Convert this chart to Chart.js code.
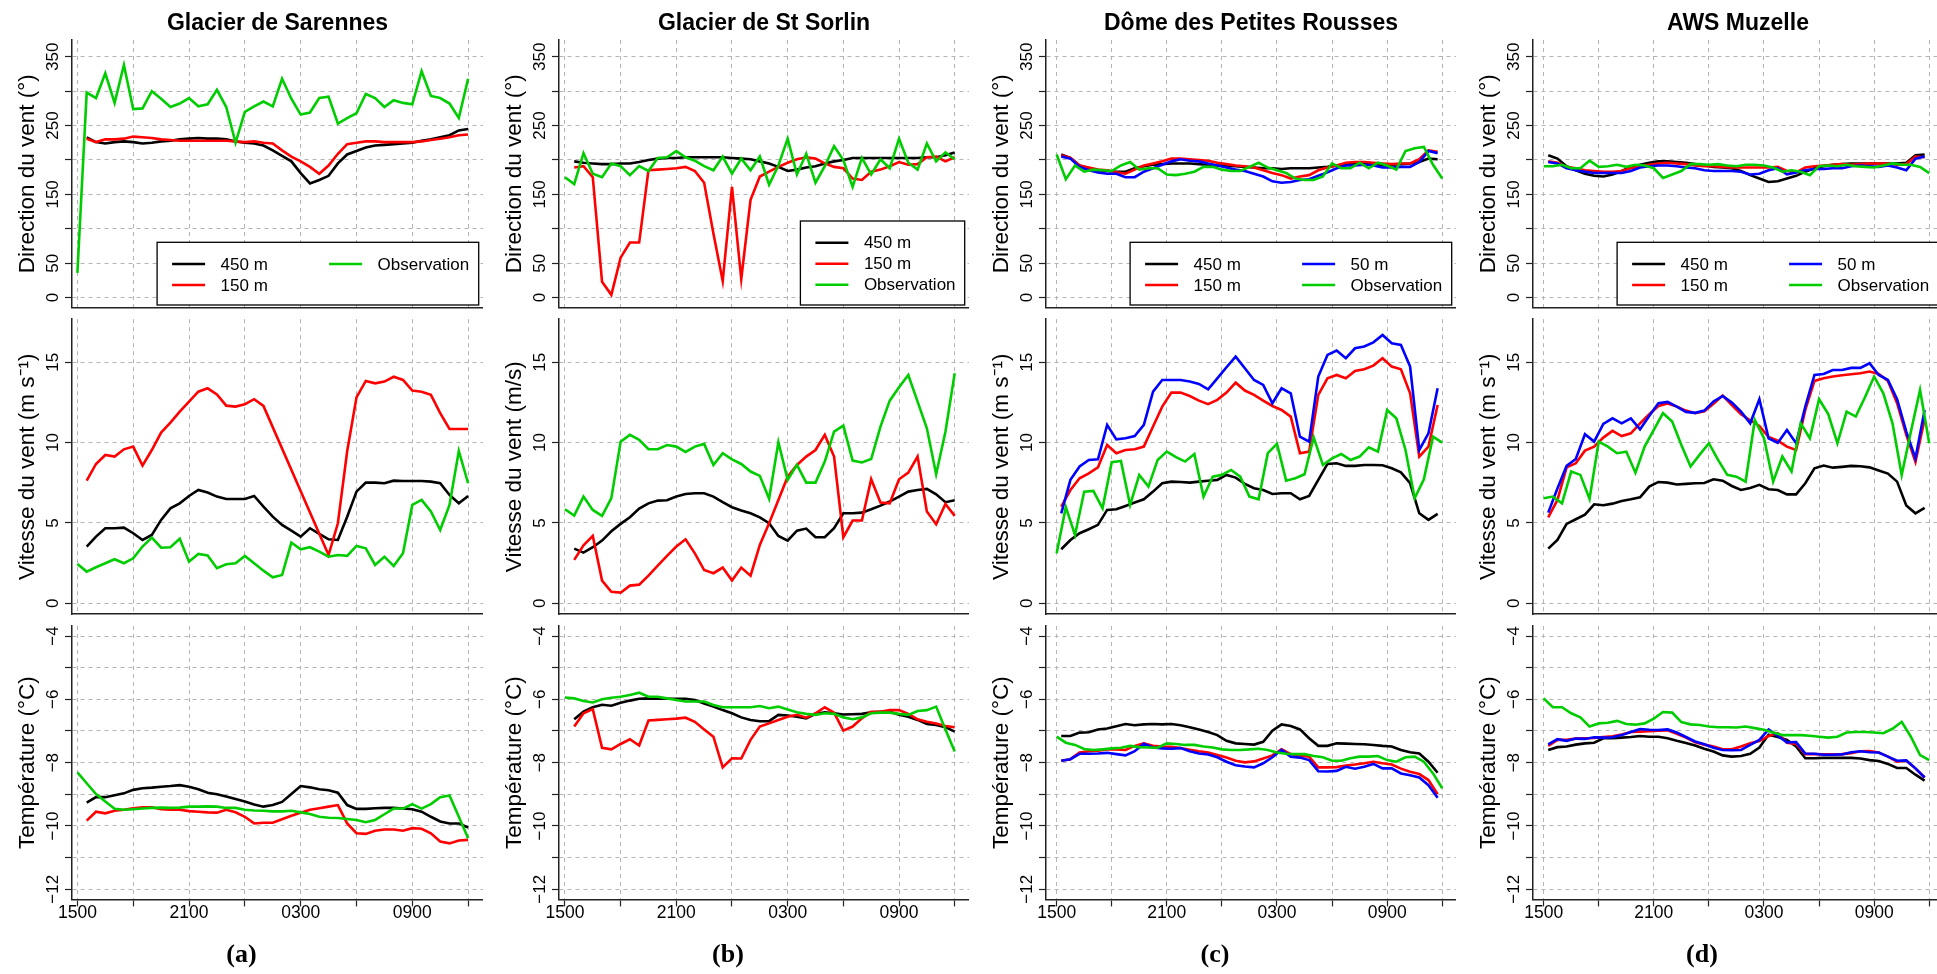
<!DOCTYPE html>
<html lang="fr">
<head>
<meta charset="UTF-8">
<title>Vent et température : modèle et observations</title>
<script src="https://cdn.jsdelivr.net/npm/chart.js"></script>
<style>
  html, body { margin: 0; padding: 0; background: #fff; overflow: hidden; }
  #fig { position: relative; width: 1937px; height: 974px; overflow: hidden; }
  #fig canvas { position: absolute; }
</style>
</head>
<body>
<div id="fig"></div>
<script>
// hours after 1500 (local)
const tObs = [0,0.5,1,1.5,2,2.5,3,3.5,4,4.5,5,5.5,6,6.5,7,7.5,8,8.5,9,9.5,10,10.5,11,11.5,12,12.5,13,13.5,14,14.5,15,15.5,16,16.5,17,17.5,18,18.5,19,19.5,20,20.5,21];
const tModAB = [0.5,1,1.5,2,2.5,3,3.5,4,4.5,5,5.5,6,6.5,7,7.5,8,8.5,9,9.5,10,10.5,11,11.5,12,12.5,13,13.5,14,14.5,15,15.5,16,16.5,17,17.5,18,18.5,19,19.5,20,20.5,21];
const tModCD = [0.25,0.75,1.25,1.75,2.25,2.75,3.25,3.75,4.25,4.75,5.25,5.75,6.25,6.75,7.25,7.75,8.25,8.75,9.25,9.75,10.25,10.75,11.25,11.75,12.25,12.75,13.25,13.75,14.25,14.75,15.25,15.75,16.25,16.75,17.25,17.75,18.25,18.75,19.25,19.75,20.25,20.75];

const hourTicks = [0, 3, 6, 9, 12, 15, 18, 21];
const hourLabels = ['1500', '', '2100', '', '0300', '', '0900', ''];

const stations = ['Glacier de Sarennes', 'Glacier de St Sorlin', 'Dôme des Petites Rousses', 'AWS Muzelle'];
const panelLetters = ['(a)', '(b)', '(c)', '(d)'];

// Glacier de Sarennes
const sarDir450 = [233,226,224,226,227,226,224,225,227,228,230,231,232,231,231,230,227,225,224,221,214,206,198,181,166,171,177,195,208,213,218,221,222,223,224,225,228,230,233,236,243,245];
const sarDir150 = [231,226,230,230,231,234,233,232,230,229,228,228,228,228,228,228,227,226,227,225,224,214,205,198,190,180,192,209,223,225,227,227,226,226,226,226,227,229,231,233,236,237];
const sarDirObs = [36,298,290,326,283,338,274,275,300,289,277,282,290,278,281,302,277,225,270,278,285,278,318,289,266,269,290,292,253,261,268,296,290,277,287,283,281,329,293,290,282,261,318];
const sarSpd450 = [3.53,4.15,4.67,4.67,4.71,4.36,3.94,4.25,5.19,5.91,6.22,6.68,7.05,6.89,6.64,6.49,6.49,6.49,6.68,6.02,5.39,4.88,4.52,4.15,4.67,4.32,3.98,3.94,5.39,6.95,7.51,7.51,7.47,7.63,7.61,7.61,7.61,7.57,7.47,6.74,6.22,6.68];
const sarSpd150 = [7.63,8.67,9.23,9.13,9.58,9.75,8.57,9.54,10.62,11.24,11.93,12.55,13.17,13.38,13.0,12.3,12.24,12.39,12.7,12.28,null,null,null,null,null,null,3.0,4.98,9.46,12.81,13.84,13.69,13.8,14.1,13.9,13.24,13.17,12.97,11.83,10.85,10.85,10.85];
const sarSpdObs = [2.45,1.97,2.24,2.49,2.74,2.49,2.8,3.53,4.09,3.46,3.49,4.02,2.59,3.07,2.97,2.18,2.43,2.49,2.95,2.49,2.03,1.62,1.76,3.78,3.36,3.49,3.22,2.9,3.0,2.95,3.57,3.42,2.39,2.9,2.32,3.11,6.12,6.43,5.71,4.56,6.12,9.48,7.47];
const sarTmp450 = [-9.26,-9.09,-9.09,-9.03,-8.97,-8.86,-8.81,-8.79,-8.76,-8.74,-8.71,-8.76,-8.84,-8.95,-9.0,-9.07,-9.15,-9.23,-9.32,-9.39,-9.34,-9.24,-8.99,-8.74,-8.78,-8.84,-8.87,-8.95,-9.34,-9.46,-9.46,-9.44,-9.43,-9.43,-9.45,-9.47,-9.55,-9.71,-9.86,-9.92,-9.92,-10.05];
const sarTmp150 = [-9.83,-9.55,-9.6,-9.52,-9.49,-9.44,-9.41,-9.41,-9.47,-9.49,-9.49,-9.53,-9.55,-9.57,-9.58,-9.49,-9.57,-9.71,-9.92,-9.9,-9.9,-9.79,-9.68,-9.58,-9.49,-9.44,-9.39,-9.34,-9.92,-10.23,-10.25,-10.15,-10.11,-10.11,-10.15,-10.07,-10.09,-10.23,-10.49,-10.55,-10.46,-10.44];
const sarTmpObs = [-8.31,-8.65,-8.99,-9.23,-9.46,-9.49,-9.47,-9.45,-9.43,-9.42,-9.43,-9.42,-9.39,-9.39,-9.38,-9.39,-9.43,-9.43,-9.49,-9.51,-9.52,-9.54,-9.54,-9.52,-9.57,-9.62,-9.71,-9.74,-9.75,-9.78,-9.81,-9.88,-9.81,-9.63,-9.45,-9.45,-9.31,-9.45,-9.31,-9.09,-9.04,-9.71,-10.39];

// Glacier de St Sorlin
const sorDir450 = [198,196,195,194,194,195,195,197,200,202,203,203,204,204,204,204,204,203,202,201,198,195,190,184,186,189,191,195,198,200,203,203,203,203,203,203,203,203,204,204,207,211];
const sorDir150 = [189,191,175,23,4,58,80,80,185,186,187,188,190,184,167,93,24,161,27,142,176,183,190,196,201,204,202,195,190,188,173,171,183,186,191,197,193,194,204,205,198,204];
const sorDirObs = [175,165,210,180,175,195,191,178,191,184,203,204,213,204,199,191,185,205,180,202,185,205,164,192,231,179,209,167,191,220,200,161,203,179,201,188,231,196,186,224,198,211,201];
const sorSpd450 = [3.4,3.15,3.49,3.9,4.48,4.94,5.35,5.89,6.22,6.39,6.41,6.64,6.8,6.85,6.85,6.64,6.29,5.98,5.77,5.6,5.35,4.98,4.19,3.9,4.52,4.65,4.11,4.11,4.67,5.6,5.6,5.64,5.85,6.08,6.33,6.64,6.95,7.05,7.12,6.78,6.29,6.41];
const sorSpd150 = [2.7,3.61,4.19,1.41,0.71,0.66,1.1,1.16,1.72,2.34,2.95,3.53,3.98,3.11,2.07,1.87,2.22,1.41,2.22,1.72,3.63,4.98,6.43,7.88,8.61,9.13,9.54,10.48,9.13,4.11,5.15,5.15,7.72,6.27,6.22,7.72,8.13,9.13,5.71,4.92,6.18,5.44];
const sorSpdObs = [5.85,5.46,6.64,5.81,5.44,6.54,10.06,10.48,10.17,9.59,9.59,9.85,9.75,9.42,9.75,9.92,8.61,9.34,8.96,8.67,8.2,7.93,6.51,10.02,7.68,8.61,7.51,7.51,8.82,10.68,11.06,8.88,8.76,8.98,11.0,12.61,13.44,14.21,12.55,10.89,8.03,10.68,14.32];
const sorTmp450 = [-6.63,-6.39,-6.25,-6.17,-6.2,-6.11,-6.04,-5.98,-5.97,-5.98,-5.98,-5.98,-5.98,-6.02,-6.13,-6.23,-6.34,-6.44,-6.57,-6.65,-6.69,-6.69,-6.49,-6.51,-6.55,-6.6,-6.46,-6.41,-6.44,-6.48,-6.47,-6.46,-6.41,-6.39,-6.39,-6.49,-6.55,-6.65,-6.78,-6.81,-6.88,-7.02];
const sorTmp150 = [-6.86,-6.44,-6.31,-7.53,-7.58,-7.41,-7.26,-7.46,-6.67,-6.65,-6.63,-6.61,-6.58,-6.71,-6.95,-7.18,-8.15,-7.86,-7.87,-7.28,-6.86,-6.76,-6.65,-6.55,-6.49,-6.58,-6.44,-6.25,-6.42,-6.99,-6.86,-6.6,-6.39,-6.39,-6.34,-6.34,-6.46,-6.63,-6.71,-6.76,-6.84,-6.88];
const sorTmpObs = [-5.94,-5.97,-6.05,-6.1,-6.0,-5.95,-5.92,-5.86,-5.79,-5.92,-5.92,-5.97,-6.02,-6.07,-6.07,-6.07,-6.18,-6.25,-6.25,-6.25,-6.25,-6.21,-6.28,-6.23,-6.32,-6.41,-6.46,-6.49,-6.44,-6.46,-6.57,-6.63,-6.57,-6.44,-6.42,-6.42,-6.46,-6.49,-6.37,-6.34,-6.23,-6.95,-7.65];

// Dôme des Petites Rousses
const domDir450 = [208,203,192,188,185,184,183,183,188,191,193,194,195,195,195,194,193,192,192,191,190,189,188,188,187,188,188,188,189,190,192,194,195,195,194,192,193,194,195,197,202,201];
const domDir150 = [207,203,192,189,186,185,182,180,186,192,195,198,202,202,201,200,199,196,194,192,191,189,185,181,178,173,176,178,185,189,192,196,197,197,196,195,194,195,195,201,214,212];
const domDir50 = [205,202,190,185,182,180,180,175,175,183,188,193,198,201,199,198,195,192,189,186,184,180,176,169,167,168,171,172,177,182,188,192,192,193,192,189,189,190,190,197,213,210];
const domDirObs = [208,172,192,183,186,185,184,192,197,186,188,188,179,178,180,183,190,190,186,184,184,190,196,189,185,181,173,171,171,176,195,188,188,196,188,196,192,186,213,217,219,193,173];
const domSpd450 = [3.36,3.94,4.36,4.61,4.88,5.81,5.85,6.06,6.27,6.47,6.95,7.47,7.57,7.55,7.51,7.57,7.63,7.68,7.99,7.82,7.43,7.16,7.05,6.8,6.85,6.85,6.47,6.68,7.68,8.67,8.71,8.55,8.55,8.61,8.61,8.59,8.4,8.15,7.47,5.6,5.19,5.56];
const domSpd150 = [6.02,7.05,7.78,8.09,8.46,9.85,9.34,9.54,9.59,9.75,11.0,12.24,13.11,13.11,12.9,12.61,12.39,12.66,13.11,13.73,13.24,12.97,12.61,12.28,12.03,11.62,9.34,9.44,12.97,14.0,14.21,14.0,14.46,14.56,14.79,15.25,14.73,14.56,13.07,9.13,9.75,12.34];
const domSpd50 = [5.6,7.68,8.51,8.92,8.96,11.1,10.2,10.27,10.41,11.1,13.17,13.9,13.9,13.9,13.8,13.65,13.32,14.0,14.69,15.35,14.63,13.9,13.59,12.45,13.38,13.07,10.37,10.06,14.11,15.46,15.73,15.25,15.87,15.98,16.24,16.7,16.18,16.08,14.73,9.54,10.58,13.38];
const domSpdObs = [3.11,5.98,4.25,6.95,6.99,5.91,8.78,8.86,6.12,7.99,7.26,8.92,9.44,9.09,8.82,9.29,6.64,7.88,7.99,8.3,7.88,6.64,6.47,9.34,9.92,7.63,7.78,8.03,10.33,8.61,9.02,9.29,8.92,9.13,9.71,9.44,12.03,11.51,9.54,6.54,7.72,10.37,10.0];
const domTmp450 = [-7.16,-7.16,-7.05,-7.04,-6.95,-6.92,-6.85,-6.78,-6.82,-6.79,-6.78,-6.79,-6.78,-6.82,-6.88,-6.95,-7.03,-7.13,-7.31,-7.39,-7.41,-7.43,-7.34,-6.99,-6.79,-6.84,-6.95,-7.23,-7.47,-7.47,-7.39,-7.4,-7.41,-7.42,-7.44,-7.47,-7.49,-7.6,-7.67,-7.71,-7.97,-8.32];
const domTmp150 = [-7.94,-7.89,-7.68,-7.64,-7.62,-7.58,-7.58,-7.6,-7.47,-7.39,-7.47,-7.49,-7.5,-7.54,-7.59,-7.64,-7.68,-7.76,-7.84,-7.94,-7.99,-7.96,-7.87,-7.77,-7.58,-7.73,-7.77,-7.81,-8.15,-8.15,-8.14,-8.09,-8.06,-8.02,-7.97,-8.02,-8.06,-8.19,-8.29,-8.36,-8.55,-9.0];
const domTmp50 = [-7.94,-7.89,-7.72,-7.72,-7.71,-7.69,-7.73,-7.77,-7.64,-7.4,-7.52,-7.55,-7.56,-7.54,-7.64,-7.71,-7.74,-7.83,-7.97,-8.08,-8.12,-8.15,-8.02,-7.83,-7.6,-7.81,-7.84,-7.92,-8.27,-8.28,-8.26,-8.13,-8.19,-8.13,-8.04,-8.18,-8.18,-8.34,-8.4,-8.47,-8.71,-9.11];
const domTmpObs = [-7.18,-7.37,-7.44,-7.57,-7.6,-7.58,-7.55,-7.53,-7.47,-7.51,-7.52,-7.53,-7.39,-7.41,-7.44,-7.44,-7.49,-7.52,-7.58,-7.6,-7.6,-7.58,-7.56,-7.6,-7.68,-7.72,-7.73,-7.73,-7.79,-7.83,-7.94,-7.94,-7.86,-7.81,-7.81,-7.79,-7.92,-7.97,-7.83,-7.81,-7.97,-8.34,-8.81];

// AWS Muzelle
const muzDir450 = [207,202,191,185,180,177,176,179,184,190,193,196,198,198,197,196,194,192,190,189,188,184,178,173,168,169,173,177,183,188,191,193,194,195,195,195,195,195,195,196,207,208];
const muzDir150 = [198,196,190,188,185,184,183,183,184,188,191,193,195,196,195,194,192,191,191,190,189,189,189,189,189,190,184,182,189,191,192,193,194,193,194,195,195,195,193,194,205,204];
const muzDir50 = [197,195,188,185,183,181,181,181,181,184,189,191,192,192,191,189,188,185,184,184,184,183,179,180,185,188,179,182,185,187,187,188,188,191,192,191,190,192,189,185,202,205];
const muzDirObs = [191,191,193,188,188,199,190,191,193,190,193,192,188,174,179,184,194,194,193,194,192,191,193,193,192,189,183,185,183,178,191,192,191,193,191,190,189,192,195,193,193,190,181];
const muzSpd450 = [3.4,3.94,4.94,5.23,5.52,6.16,6.1,6.2,6.37,6.47,6.6,7.26,7.55,7.51,7.39,7.43,7.47,7.49,7.72,7.63,7.3,7.05,7.18,7.37,7.1,7.05,6.78,6.78,7.47,8.4,8.57,8.44,8.49,8.55,8.53,8.46,8.26,8.07,7.57,6.08,5.6,5.93];
const muzSpd150 = [5.35,6.43,8.46,8.71,9.5,9.75,10.31,10.73,10.41,10.58,11.2,11.76,12.28,12.43,12.24,11.99,11.83,11.95,12.41,12.93,12.34,11.76,11.39,11.04,10.35,10.12,9.75,9.54,12.03,13.84,14.0,14.11,14.19,14.25,14.32,14.42,14.27,13.84,12.45,10.48,8.8,11.45];
const muzSpd50 = [5.64,7.14,8.55,8.98,10.52,10.06,11.16,11.51,11.2,11.51,10.83,11.66,12.45,12.53,12.24,11.91,11.85,11.99,12.55,12.9,12.49,11.93,11.2,12.7,10.27,9.98,10.79,9.96,12.24,14.21,14.27,14.52,14.52,14.65,14.65,14.94,14.21,13.9,12.7,10.68,9.02,12.03];
const muzSpdObs = [6.54,6.64,6.22,8.2,7.99,6.49,10.06,9.75,9.34,9.44,8.13,9.75,10.79,11.83,11.31,9.85,8.51,9.25,9.96,8.92,7.99,7.88,7.57,11.41,10.27,7.57,9.13,8.2,11.2,10.27,12.7,11.78,9.96,11.93,11.62,12.82,14.11,13.07,11.2,7.99,10.68,13.28,9.96];
const muzTmp450 = [-7.6,-7.51,-7.49,-7.43,-7.39,-7.37,-7.23,-7.23,-7.21,-7.19,-7.16,-7.18,-7.18,-7.23,-7.31,-7.38,-7.46,-7.56,-7.65,-7.77,-7.81,-7.79,-7.72,-7.52,-7.12,-7.19,-7.28,-7.49,-7.86,-7.86,-7.85,-7.85,-7.85,-7.85,-7.87,-7.92,-7.95,-8.04,-8.17,-8.17,-8.38,-8.57];
const muzTmp150 = [-7.47,-7.28,-7.28,-7.24,-7.23,-7.22,-7.19,-7.17,-7.11,-7.03,-7.02,-7.01,-6.99,-6.98,-7.09,-7.21,-7.36,-7.43,-7.49,-7.58,-7.58,-7.49,-7.39,-7.32,-7.16,-7.07,-7.37,-7.41,-7.73,-7.73,-7.74,-7.74,-7.73,-7.7,-7.64,-7.63,-7.68,-7.81,-7.97,-7.94,-8.18,-8.47];
const muzTmp50 = [-7.42,-7.26,-7.31,-7.24,-7.25,-7.2,-7.21,-7.2,-7.13,-7.03,-6.94,-6.96,-6.97,-6.95,-7.05,-7.19,-7.33,-7.42,-7.53,-7.6,-7.61,-7.6,-7.44,-7.28,-6.95,-7.15,-7.36,-7.35,-7.71,-7.72,-7.75,-7.75,-7.74,-7.67,-7.64,-7.67,-7.68,-7.81,-7.94,-7.93,-8.18,-8.47];
const muzTmpObs = [-5.97,-6.25,-6.25,-6.44,-6.57,-6.86,-6.76,-6.74,-6.68,-6.78,-6.8,-6.76,-6.61,-6.4,-6.42,-6.72,-6.79,-6.81,-6.86,-6.88,-6.88,-6.89,-6.86,-6.91,-6.96,-7.05,-7.13,-7.13,-7.13,-7.15,-7.18,-7.21,-7.18,-7.05,-7.03,-7.03,-7.05,-7.07,-6.93,-6.71,-7.18,-7.76,-7.92];

const SERIES = [
  { dir: [['450 m', tModAB, sarDir450], ['150 m', tModAB, sarDir150], ['Observation', tObs, sarDirObs]],
    spd: [['450 m', tModAB, sarSpd450], ['150 m', tModAB, sarSpd150], ['Observation', tObs, sarSpdObs]],
    tmp: [['450 m', tModAB, sarTmp450], ['150 m', tModAB, sarTmp150], ['Observation', tObs, sarTmpObs]] },
  { dir: [['450 m', tModAB, sorDir450], ['150 m', tModAB, sorDir150], ['Observation', tObs, sorDirObs]],
    spd: [['450 m', tModAB, sorSpd450], ['150 m', tModAB, sorSpd150], ['Observation', tObs, sorSpdObs]],
    tmp: [['450 m', tModAB, sorTmp450], ['150 m', tModAB, sorTmp150], ['Observation', tObs, sorTmpObs]] },
  { dir: [['450 m', tModCD, domDir450], ['150 m', tModCD, domDir150], ['50 m', tModCD, domDir50], ['Observation', tObs, domDirObs]],
    spd: [['450 m', tModCD, domSpd450], ['150 m', tModCD, domSpd150], ['50 m', tModCD, domSpd50], ['Observation', tObs, domSpdObs]],
    tmp: [['450 m', tModCD, domTmp450], ['150 m', tModCD, domTmp150], ['50 m', tModCD, domTmp50], ['Observation', tObs, domTmpObs]] },
  { dir: [['450 m', tModCD, muzDir450], ['150 m', tModCD, muzDir150], ['50 m', tModCD, muzDir50], ['Observation', tObs, muzDirObs]],
    spd: [['450 m', tModCD, muzSpd450], ['150 m', tModCD, muzSpd150], ['50 m', tModCD, muzSpd50], ['Observation', tObs, muzSpdObs]],
    tmp: [['450 m', tModCD, muzTmp450], ['150 m', tModCD, muzTmp150], ['50 m', tModCD, muzTmp50], ['Observation', tObs, muzTmpObs]] }
];

const COLORS = {'450 m': '#000000', '150 m': '#ff0000', '50 m': '#0000ff', 'Observation': '#00cd00'};
const ORDER = {'450 m': 4, '150 m': 3, '50 m': 2, 'Observation': 1};

const FAM = "'Liberation Sans', Arial, Helvetica, sans-serif";
const SERIF = "'Liberation Serif', 'Times New Roman', serif";
const GRID = '#b4b4b4';
const AXIS = '#222222';
const Y_W = 72;          // room left of each plot for the y axis
const TICK_LEN = 7;
const Y_LABEL_OFF = 18.7;
const SUB_H = 26 * 1.2 + 4 + 3;

Chart.defaults.font.family = FAM;
Chart.defaults.color = '#000';

const minus = v => (v < 0 ? '\u2212' + Math.abs(v) : String(v));
const dirShown = [0, 50, 150, 250, 350];

const rows = [
  { key: 'dir', min: -14.4, max: 374.4, step: 50, top: 40, bottom: 307.5, canvasTop: 0, canvasH: 312,
    labels: ['0', '50', '150', '250', '350'], fmt: v => (dirShown.includes(v) ? String(v) : '') },
  { key: 'spd', min: -0.68, max: 17.68, step: 5, top: 319.2, bottom: 614.2, canvasTop: 305, canvasH: 313,
    labels: ['0', '5', '10', '15'], fmt: v => String(v) },
  { key: 'tmp', min: -12.32, max: -3.68, step: 1, top: 625.9, bottom: 899.4, canvasTop: 612, canvasH: 362,
    labels: ['\u22124', '\u22126', '\u22128', '\u221210', '\u221212'], fmt: v => (v % 2 === 0 ? minus(v) : '') }
];
const cols = [
  { left: 72, width: 411, xmin: -0.29, xmax: 21.8 },
  { left: 559, width: 410, xmin: -0.32, xmax: 21.77 },
  { left: 1046, width: 410, xmin: -0.58, xmax: 21.75 },
  { left: 1533, width: 410, xmin: -0.58, xmax: 21.75 }
];
const yTitles = {
  dir: ['Direction du vent (°)', 'Direction du vent (°)', 'Direction du vent (°)', 'Direction du vent (°)'],
  spd: ['Vitesse du vent (m s\u207B\u00B9)', 'Vitesse du vent (m/s)', 'Vitesse du vent (m s\u207B\u00B9)', 'Vitesse du vent (m s\u207B\u00B9)'],
  tmp: ['Température (°C)', 'Température (°C)', 'Température (°C)', 'Température (°C)']
};
const legendBoxes = [
  { rows: 2, width: 321.6, height: 62.7 },
  { rows: 3, width: 164.3, height: 84 },
  { rows: 2, width: 321.6, height: 62.7 },
  { rows: 2, width: 321.6, height: 62.7 }
];

// width of the widest tick label, so rotated labels sit centred next to the axis
const meas = document.createElement('canvas').getContext('2d');
function widest(labels) {
  meas.font = 'normal 17px ' + FAM;
  return Math.max(...labels.map(s => meas.measureText(s).width));
}

// R-style legend: white box with a frame, items filled column by column
const boxLegend = {
  id: 'boxLegend',
  afterDatasetsDraw(chart, args, o) {
    if (!o || !o.rows) return;
    const a = chart.chartArea, ctx = chart.ctx;
    const x0 = a.right - 4.3 - o.width;
    const y0 = a.bottom - 2.5 - o.height;
    const gap = 21;
    const first = (o.height - (o.rows - 1) * gap) / 2 + 0.8;
    ctx.save();
    ctx.fillStyle = '#ffffff';
    ctx.fillRect(x0, y0, o.width, o.height);
    ctx.strokeStyle = '#000';
    ctx.lineWidth = 1.3;
    ctx.strokeRect(x0, y0, o.width, o.height);
    ctx.font = '17px ' + FAM;
    ctx.textBaseline = 'middle';
    ctx.fillStyle = '#000';
    chart.data.datasets.forEach((ds, i) => {
      const c = Math.floor(i / o.rows), r = i % o.rows;
      const lx = x0 + 15 + c * 157;
      const ly = y0 + first + r * gap;
      ctx.strokeStyle = ds.borderColor;
      ctx.lineWidth = 2.6;
      ctx.beginPath();
      ctx.moveTo(lx, ly);
      ctx.lineTo(lx + 33, ly);
      ctx.stroke();
      ctx.fillText(ds.label, lx + 48.5, ly + 1);
    });
    ctx.restore();
  }
};

const fig = document.getElementById('fig');

function makePanel(ci, ri) {
  const col = cols[ci], row = rows[ri];
  const isTop = ri === 0, isBottom = ri === 2;
  const w = Y_W + col.width;
  const cv = document.createElement('canvas');
  cv.width = w;
  cv.height = row.canvasH;
  cv.style.left = (col.left - Y_W) + 'px';
  cv.style.top = row.canvasTop + 'px';
  cv.style.width = w + 'px';
  cv.style.height = row.canvasH + 'px';
  fig.appendChild(cv);

  const datasets = SERIES[ci][row.key].map(([label, t, v]) => ({
    label,
    data: t.map((x, i) => ({ x, y: v[i] })),
    borderColor: COLORS[label],
    borderWidth: 2.6,
    pointRadius: 0,
    pointHoverRadius: 0,
    fill: false,
    tension: 0,
    spanGaps: true,
    order: ORDER[label]
  }));

  const below = row.canvasTop + row.canvasH - row.bottom;
  const xh = isBottom ? below - SUB_H : below;
  const yPad = Y_LABEL_OFF - TICK_LEN - widest(row.labels) / 2;

  new Chart(cv, {
    type: 'line',
    data: { datasets },
    options: {
      responsive: false,
      animation: false,
      events: [],
      layout: { padding: { top: isTop ? 0 : row.top - row.canvasTop }, autoPadding: false },
      plugins: {
        legend: { display: false },
        tooltip: { enabled: false },
        title: {
          display: isTop, text: stations[ci], fullSize: false, color: '#000',
          font: { size: 23, weight: 'bold' }, padding: { top: 10, bottom: 2.4 }
        },
        subtitle: {
          display: isBottom, text: panelLetters[ci], position: 'bottom', color: '#000',
          font: { family: SERIF, size: 26, weight: 'bold' }, padding: { top: 4, bottom: 3 }
        },
        boxLegend: isTop ? legendBoxes[ci] : {}
      },
      scales: {
        x: {
          type: 'linear', min: col.xmin, max: col.xmax,
          afterFit: s => { s.height = xh; s.paddingLeft = 0; s.paddingRight = 0; },
          ticks: {
            display: isBottom, stepSize: 3, includeBounds: false, autoSkip: false,
            maxRotation: 0, padding: -3.5, font: { size: 17.5 }, color: '#000',
            callback: v => { const k = hourTicks.indexOf(v); return k < 0 ? '' : hourLabels[k]; }
          },
          grid: { color: GRID, lineWidth: 1, drawTicks: isBottom, tickLength: TICK_LEN, tickColor: AXIS, tickWidth: 1.2 },
          border: { display: true, color: AXIS, width: 1.5, dash: [4, 4] }
        },
        y: {
          type: 'linear', min: row.min, max: row.max,
          afterFit: s => { s.width = Y_W; s.paddingTop = 0; s.paddingBottom = 0; },
          ticks: {
            stepSize: row.step, includeBounds: false, autoSkip: false,
            minRotation: 90, maxRotation: 90, crossAlign: 'center', padding: yPad,
            font: { size: 17 }, color: '#000', callback: row.fmt
          },
          grid: { color: GRID, lineWidth: 1, drawTicks: true, tickLength: TICK_LEN, tickColor: AXIS, tickWidth: 1.2 },
          border: { display: true, color: AXIS, width: 1.5, dash: [4, 4] },
          title: {
            display: true, text: yTitles[row.key][ci], color: '#000',
            font: { size: 22.5 }, padding: { top: 14.5, bottom: 0 }
          }
        }
      }
    },
    plugins: [boxLegend]
  });
}

for (let ci = 0; ci < cols.length; ci++) {
  for (let ri = 0; ri < rows.length; ri++) makePanel(ci, ri);
}
</script>
</body>
</html>
